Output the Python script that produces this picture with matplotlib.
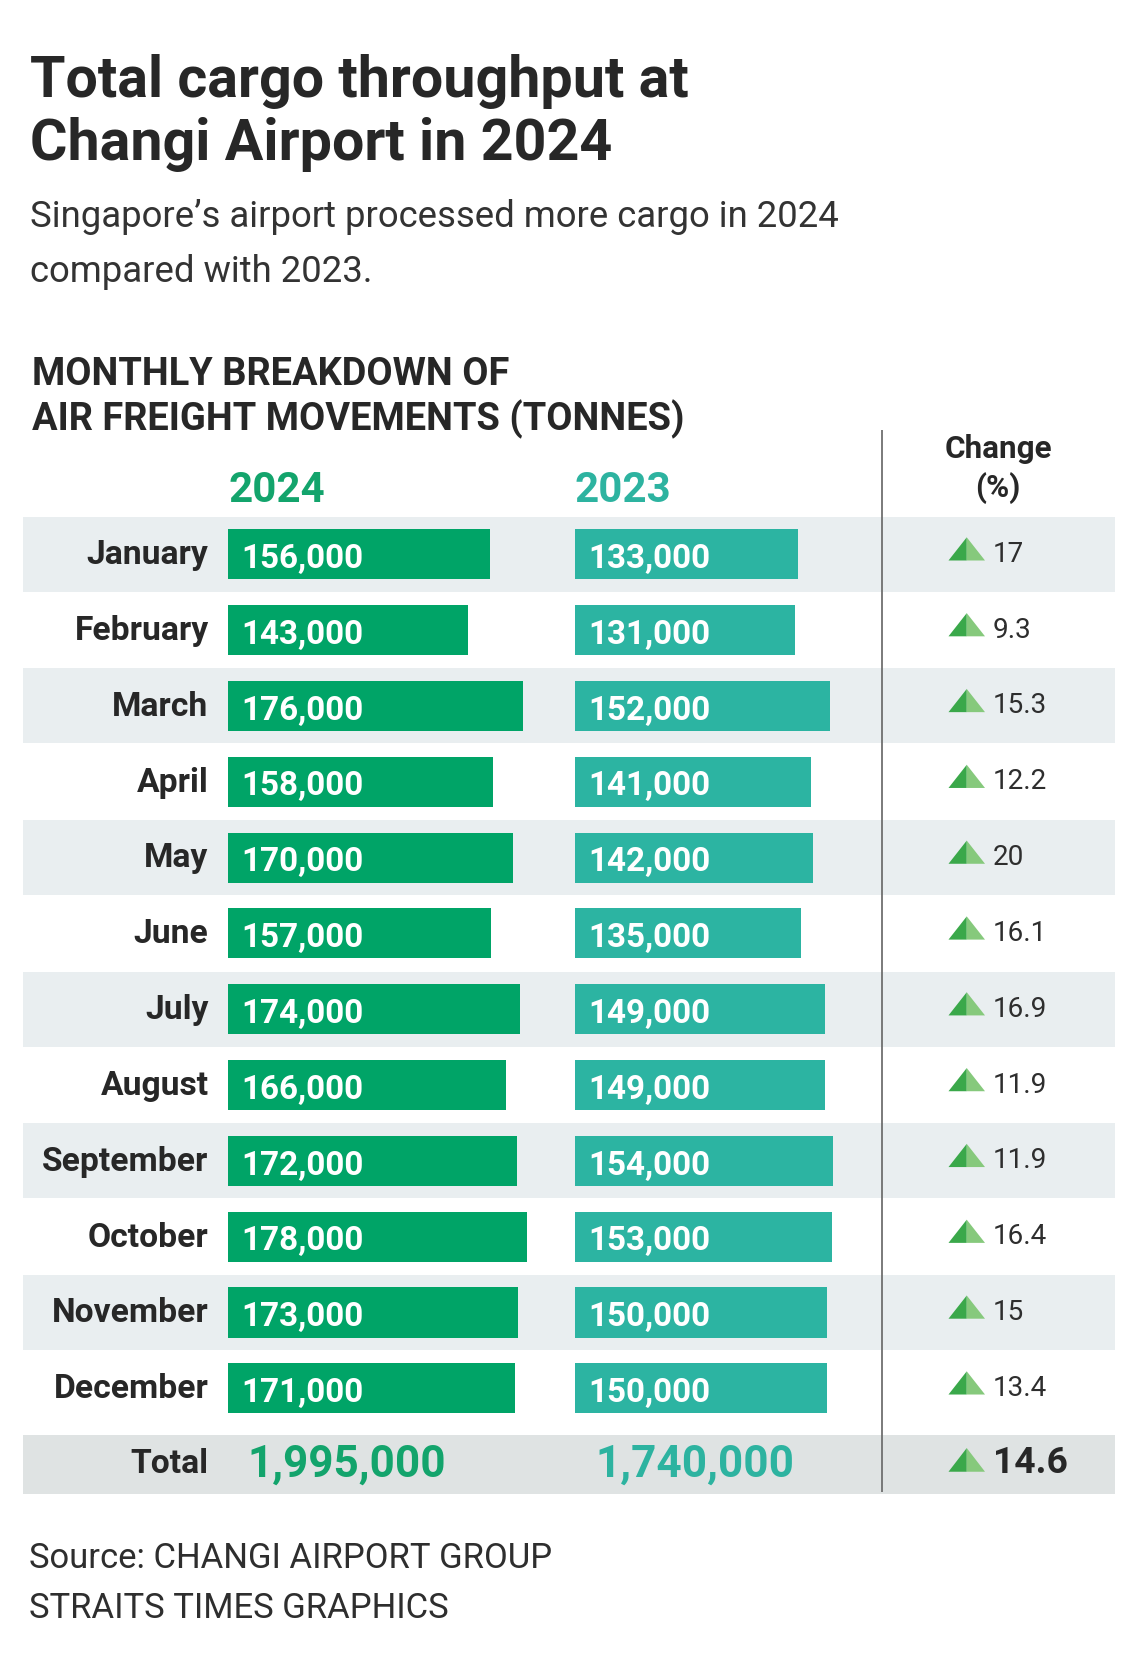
import matplotlib
matplotlib.use("Agg")
import matplotlib.pyplot as plt

# ---------------- data ----------------
months = ["January", "February", "March", "April", "May", "June", "July",
          "August", "September", "October", "November", "December"]
tonnes_2024 = [156000, 143000, 176000, 158000, 170000, 157000, 174000,
               166000, 172000, 178000, 173000, 171000]
tonnes_2023 = [133000, 131000, 152000, 141000, 142000, 135000, 149000,
               149000, 154000, 153000, 150000, 150000]
change_pct = ["17", "9.3", "15.3", "12.2", "20", "16.1", "16.9", "11.9",
              "11.9", "16.4", "15", "13.4"]
total_2024 = 1995000
total_2023 = 1740000
total_change = "14.6"
year_labels = ["2024", "2023"]

title_lines = ["Total cargo throughput at", "Changi Airport in 2024"]
subtitle_lines = ["Singapore\u2019s airport processed more cargo in 2024",
                  "compared with 2023."]
section_lines = ["MONTHLY BREAKDOWN OF", "AIR FREIGHT MOVEMENTS (TONNES)"]
source_lines = ["Source: CHANGI AIRPORT GROUP", "STRAITS TIMES GRAPHICS"]

# ---------------- style ----------------
C24 = "#00a467"
C23 = "#2cb4a2"
C24_TXT = "#13a46c"
C23_TXT = "#2db3a0"
BAND = "#e9eef0"
TOTAL_BAND = "#dfe3e3"
DARK = "#272727"
TRI_DARK = "#3aa84a"
TRI_LIGHT = "#86c97c"
FONT = "Roboto"

W, H = 1140, 1662
fig = plt.figure(figsize=(W / 100, H / 100), dpi=100)
fig.patch.set_facecolor("white")
renderer = fig.canvas.get_renderer()

ROW0, ROWH = 554.3, 75.82


def R(py):
    return (py - ROW0) / ROWH


def fit(s, target, weight="bold"):
    t = fig.text(0, 0, s, fontsize=20, fontweight=weight, family=FONT)
    w = t.get_window_extent(renderer).width
    t.remove()
    return 20 * target / w


tab = fig.add_axes([0, 0, 1, 1])
tab.set_xlim(0, W)
tab.set_ylim(R(H), R(0))
tab.axis("off")

# ---------------- headings ----------------
fs = fit(title_lines[0], 656, "bold")
tab.text(30, R(96.7), title_lines[0], fontsize=fs, fontweight="bold",
         family=FONT, color=DARK, va="baseline")
tab.text(30, R(160), title_lines[1], fontsize=fs, fontweight="bold",
         family=FONT, color=DARK, va="baseline")

fs = fit(subtitle_lines[0], 806, "normal")
tab.text(30, R(227), subtitle_lines[0], fontsize=fs, fontweight="normal",
         family=FONT, color="#333333", va="baseline")
tab.text(30, R(281.5), subtitle_lines[1], fontsize=fs, fontweight="normal",
         family=FONT, color="#333333", va="baseline")

fs = fit(section_lines[1], 651, "bold")
tab.text(32, R(385), section_lines[0], fontsize=fs, fontweight="bold",
         family=FONT, color=DARK, va="baseline")
tab.text(32, R(430), section_lines[1], fontsize=fs, fontweight="bold",
         family=FONT, color=DARK, va="baseline")

fs = fit("2024", 96, "bold")
tab.text(228, R(501.7), year_labels[0], fontsize=fs, fontweight="bold",
         family=FONT, color=C24_TXT, va="baseline")
tab.text(574.5, R(501.7), year_labels[1], fontsize=fs, fontweight="bold",
         family=FONT, color=C23_TXT, va="baseline")

fs = fit("Change", 107, "bold")
tab.text(998, R(458.3), "Change", fontsize=fs, fontweight="bold",
         family=FONT, color=DARK, va="baseline", ha="center")
tab.text(998, R(497), "(%)", fontsize=fs, fontweight="bold",
         family=FONT, color=DARK, va="baseline", ha="center")

# ---------------- bands ----------------
n = len(months)
for i in range(n):
    if i % 2 == 0:
        tab.axhspan(i - 0.495, i + 0.495, xmin=23 / W, xmax=1115 / W,
                    color=BAND, lw=0, zorder=0)
tab.axhspan(n - 0.39, n + 0.39, xmin=23 / W, xmax=1115 / W,
            color=TOTAL_BAND, lw=0, zorder=0)
tab.vlines(882, R(430), R(1492), color="#6f6f6f", lw=1.3, zorder=1)

# ---------------- bars ----------------
PX_PER_T = 0.00168
BW = 330
fs_bar = fit("156,000", 122.5, "bold")


def bar_axes(left, values, color):
    ax = fig.add_axes([left / W, 0, BW / W, 1])
    ax.set_xlim(0, BW / PX_PER_T)
    ax.set_ylim(R(H), R(0))
    ax.axis("off")
    ax.barh(range(n), values, height=0.66, color=color, left=0)
    for i, v in enumerate(values):
        ax.text(13.5 / PX_PER_T, i + 0.18, f"{v:,}", fontsize=fs_bar,
                fontweight="bold", family=FONT, color="white", va="baseline")
    return ax


bar_axes(227.6, tonnes_2024, C24)
bar_axes(574.5, tonnes_2023, C23)

# ---------------- labels & change ----------------
fs_month = fit("January", 121.3, "bold")
fs_chg = fit("13.4", 54.3, "normal")


def triangle(y_row, top_px, bot_px):
    x0, xm, x1 = 948.5, 966.75, 985
    t = y_row + top_px / ROWH
    b = y_row + bot_px / ROWH
    tab.fill([x0, xm, xm], [b, t, b], color=TRI_DARK, lw=0, zorder=3)
    tab.fill([xm, xm, x1], [b, t, b], color=TRI_LIGHT, lw=0, zorder=3)


for i, m in enumerate(months):
    tab.text(208.6, i + 0.13, m, fontsize=fs_month, fontweight="bold",
             family=FONT, color=DARK, ha="right", va="baseline")
    triangle(i, -17, 6.2)
    tab.text(992.5, i + 0.099, change_pct[i], fontsize=fs_chg,
             fontweight="normal", family=FONT, color="#2e2e2e", va="baseline")

# total row
tab.text(208.7, n + 0.121, "Total", fontsize=fs_month, fontweight="bold",
         family=FONT, color=DARK, ha="right", va="baseline")
fs_tot = fit(f"{total_2024:,}", 198, "bold")
tab.text(247, n + 0.166, f"{total_2024:,}", fontsize=fs_tot, fontweight="bold",
         family=FONT, color=C24_TXT, va="baseline")
tab.text(595, n + 0.166, f"{total_2023:,}", fontsize=fs_tot, fontweight="bold",
         family=FONT, color=C23_TXT, va="baseline")
triangle(n, -16.1, 7.6)
fs_tc = fit(total_change, 75, "bold")
tab.text(992.7, n + 0.121, total_change, fontsize=fs_tc, fontweight="bold",
         family=FONT, color=DARK, va="baseline")

# ---------------- source ----------------
fs = fit(source_lines[0], 523, "normal")
tab.text(29, R(1568), source_lines[0], fontsize=fs, fontweight="normal",
         family=FONT, color="#2e2e2e", va="baseline")
tab.text(29, R(1618), source_lines[1], fontsize=fs, fontweight="normal",
         family=FONT, color="#2e2e2e", va="baseline")

fig.savefig("out.png", dpi=100, facecolor="white")
